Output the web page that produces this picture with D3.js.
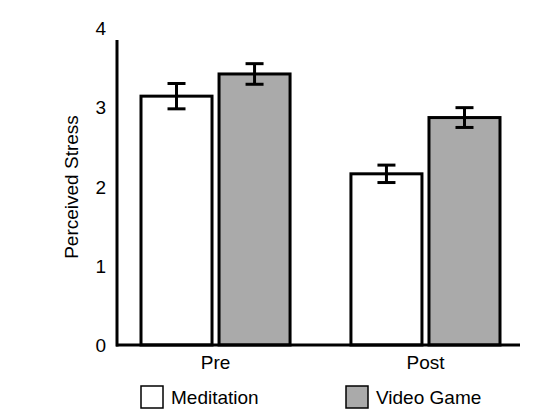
<!DOCTYPE html><html><head><script src="https://cdn.jsdelivr.net/npm/d3@7"></script>
<style>body{margin:0;background:#fff}text{font-family:"Liberation Sans",Arial,sans-serif}</style></head><body>
<svg id="c" width="553" height="418"></svg>
<script>
const categories=["Pre","Post"];
const series=["Meditation","Video Game"];
const meditation=[3.14,2.16];
const videoGame=[3.42,2.87];
const medErr=[0.16,0.11];
const vidErr=[0.13,0.125];
const yTicks=[0,1,2,3,4];
const colors=["#ffffff","#aaaaaa"];
const svg=d3.select("#c");
const y=d3.scaleLinear().domain([0,4]).range([345,28]);
const x0=d3.scaleBand().domain(categories).range([141,500]).paddingInner(0.29).paddingOuter(0);
const x1=d3.scaleBand().domain(series).range([0,x0.bandwidth()]).paddingInner(0.09);
const vals=[meditation,videoGame],errs=[medErr,vidErr];
categories.forEach((c,ci)=>series.forEach((s,si)=>{
 const v=vals[si][ci],e=errs[si][ci],bx=x0(c)+x1(s),w=x1.bandwidth();
 svg.append("rect").attr("x",bx).attr("y",y(v)).attr("width",w).attr("height",y(0)-y(v)).attr("fill",colors[si]).attr("stroke","#000").attr("stroke-width",3);
 const cx=bx+w/2;
 svg.append("line").attr("x1",cx).attr("x2",cx).attr("y1",y(v+e)).attr("y2",y(v-e)).attr("stroke","#000").attr("stroke-width",3);
 [v+e,v-e].forEach(t=>svg.append("line").attr("x1",cx-9).attr("x2",cx+9).attr("y1",y(t)).attr("y2",y(t)).attr("stroke","#000").attr("stroke-width",3));
}));
svg.append("line").attr("x1",117).attr("x2",117).attr("y1",40).attr("y2",346.5).attr("stroke","#000").attr("stroke-width",3);
svg.append("line").attr("x1",116).attr("x2",520).attr("y1",345).attr("y2",345).attr("stroke","#000").attr("stroke-width",3);
yTicks.forEach(t=>svg.append("text").attr("x",106).attr("y",y(t)+7).attr("text-anchor","end").attr("font-size",19).text(t));
categories.forEach(c=>svg.append("text").attr("x",x0(c)+x0.bandwidth()/2).attr("y",369).attr("text-anchor","middle").attr("font-size",19).text(c));
svg.append("text").attr("transform","translate(78,187) rotate(-90)").attr("text-anchor","middle").attr("font-size",19).text("Perceived Stress");
const lx=[141,346];
series.forEach((s,i)=>{
 svg.append("rect").attr("x",lx[i]).attr("y",386).attr("width",22).attr("height",22).attr("fill",colors[i]).attr("stroke","#000").attr("stroke-width",1.5);
 svg.append("text").attr("x",lx[i]+30).attr("y",404).attr("font-size",19).text(s);
});
</script></body></html>
